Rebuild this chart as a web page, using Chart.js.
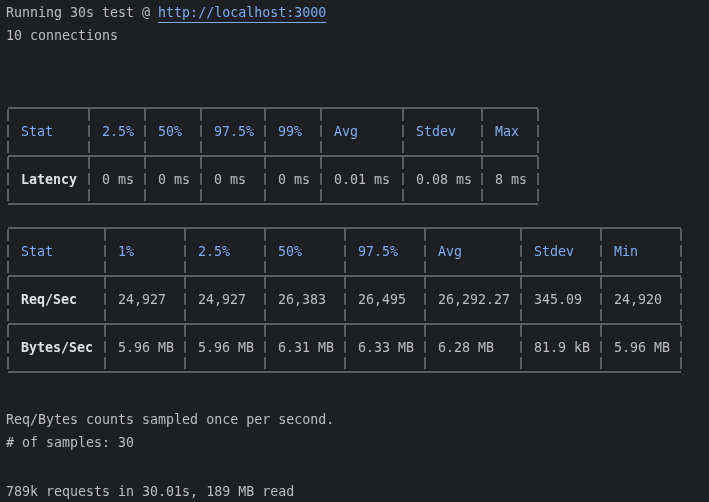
<!DOCTYPE html>
<html><head><meta charset="utf-8">
<script src="https://cdn.jsdelivr.net/npm/chart.js@4"></script>
<style>html,body{margin:0;background:#1e1f22;}#wrap{width:709px;height:502px;}</style>
</head><body><div id="wrap"><canvas id="c"></canvas></div>
<script>
// autocannon-style output, drawn as text by a Chart.js plugin
const latencyHeaders = ['Stat', '2.5%', '50%', '97.5%', '99%', 'Avg', 'Stdev', 'Max'];
const latencyRow = ['Latency', '0 ms', '0 ms', '0 ms', '0 ms', '0.01 ms', '0.08 ms', '8 ms'];
const throughputHeaders = ['Stat', '1%', '2.5%', '50%', '97.5%', 'Avg', 'Stdev', 'Min'];
const reqRow = ['Req/Sec', '24,927', '24,927', '26,383', '26,495', '26,292.27', '345.09', '24,920'];
const bytesRow = ['Bytes/Sec', '5.96 MB', '5.96 MB', '6.31 MB', '6.33 MB', '6.28 MB', '81.9 kB', '5.96 MB'];

const FG = '#bcbec4', BLUE = '#7cacf8', LINE = '#6f737a';
const FONT = '13.3px "DejaVu Sans Mono", monospace';

function drawTable(ctx, xs, top, rows) {
    const rh = 48, bottom = top + rh * rows.length;
    ctx.strokeStyle = LINE; ctx.lineWidth = 1.5;
    for (let r = 0; r <= rows.length; r++) {
        const y = top + r * rh;
        ctx.beginPath(); ctx.moveTo(xs[0], y); ctx.lineTo(xs[xs.length - 1], y); ctx.stroke();
    }
    // vertical box-drawing segments leave small gaps between text lines
    xs.forEach(x => {
        for (let y = top; y < bottom; y += 16) {
            ctx.beginPath(); ctx.moveTo(x, y + 1); ctx.lineTo(x, y + 13); ctx.stroke();
        }
    });
    rows.forEach((row, r) => {
        const y = top + r * rh + 25;
        row.forEach((t, i) => {
            if (r === 0) { ctx.fillStyle = BLUE; ctx.font = FONT; }
            else if (i === 0) { ctx.fillStyle = '#dfe1e5'; ctx.font = 'bold ' + FONT; }
            else { ctx.fillStyle = FG; ctx.font = FONT; }
            ctx.fillText(t, xs[i] + 13, y);
        });
    });
}

const textPlugin = {
    id: 'terminal',
    afterDraw(chart) {
        const ctx = chart.ctx;
        ctx.save();
        ctx.textBaseline = 'middle';
        ctx.font = FONT; ctx.fillStyle = FG;
        ctx.fillText('Running 30s test @ ', 6, 14);
        const w = ctx.measureText('Running 30s test @ ').width;
        ctx.fillStyle = BLUE;
        ctx.fillText('http://localhost:3000', 6 + w, 14);
        const uw = ctx.measureText('http://localhost:3000').width;
        ctx.fillRect(6 + w, 22, uw, 1);
        ctx.fillStyle = FG;
        ctx.fillText('10 connections', 6, 37);
        drawTable(ctx, [8, 89, 145, 201, 265, 321, 403, 482, 538], 108, [latencyHeaders, latencyRow]);
        drawTable(ctx, [8, 105, 185, 265, 345, 425, 521, 601, 681], 228, [throughputHeaders, reqRow, bytesRow]);
        ctx.fillStyle = FG; ctx.font = FONT;
        ctx.fillText('Req/Bytes counts sampled once per second.', 6, 421);
        ctx.fillText('# of samples: 30', 6, 444);
        ctx.fillText('789k requests in 30.01s, 189 MB read', 6, 493);
        ctx.restore();
    }
};

new Chart(document.getElementById('c'), {
    type: 'bar',
    data: { labels: [], datasets: [] },
    options: {
        responsive: true, maintainAspectRatio: false, animation: false,
        plugins: { legend: { display: false }, tooltip: { enabled: false } },
        scales: { x: { display: false }, y: { display: false } }
    },
    plugins: [textPlugin]
});
</script></body></html>
